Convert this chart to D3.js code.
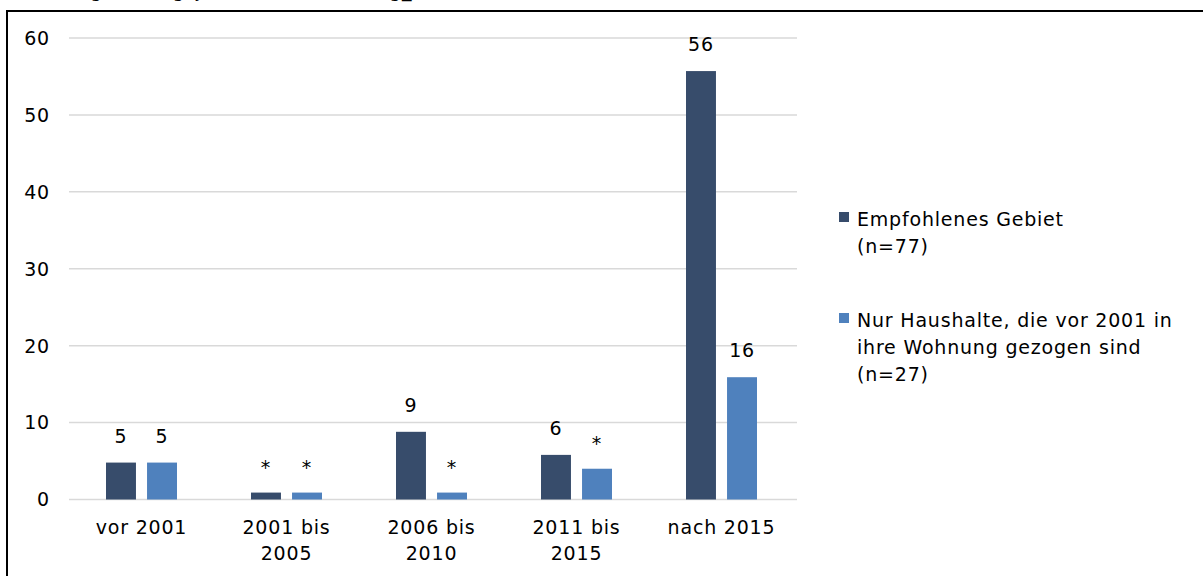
<!DOCTYPE html>
<meta charset="utf-8">
<script src="https://d3js.org/d3.v7.min.js"></script>
<style>
  body { margin: 0; background: #fff; }
  text { font-family: "DejaVu Sans", sans-serif; fill: #000; font-size: 19px; letter-spacing: 0.8px; }
</style>
<div id="my_dataviz"></div>
<script>

// data
var categories = ["vor 2001", "2001 bis|2005", "2006 bis|2010", "2011 bis|2015", "nach 2015"];
var seriesNames = ["Empfohlenes Gebiet|(n=77)", "Nur Haushalte, die vor 2001 in|ihre Wohnung gezogen sind|(n=27)"];
var gebiet = [4.8, 0.9, 8.8, 5.8, 55.7];
var haushalte = [4.8, 0.9, 0.9, 4.0, 15.9];
var gebietLabels = ["5", "*", "9", "6", "56"];
var haushalteLabels = ["5", "*", "*", "*", "16"];
var yTicks = [0, 10, 20, 30, 40, 50, 60];
var colors = ["#374c6b", "#4f81bd"];

var W = 1203, H = 576;
var margin = {top: 38, left: 69};
var width = 794 - margin.left,
    height = 499.5 - margin.top;

var svgRoot = d3.select("#my_dataviz")
  .append("svg")
    .attr("width", W)
    .attr("height", H);

// title, cut off at the top edge like in the original
svgRoot.append("text")
  .attr("x", 0)
  .attr("y", -3)
  .text("Abbildung: Einzugsjahr in die Wohnung_nach Gebiet");

// frame
svgRoot.append("rect")
  .attr("x", 7)
  .attr("y", 11)
  .attr("width", W + 20)
  .attr("height", H + 20)
  .style("fill", "none")
  .style("stroke", "#000")
  .style("stroke-width", 2);

var svg = svgRoot.append("g")
  .attr("transform", "translate(" + margin.left + "," + margin.top + ")");

var x = d3.scaleBand()
  .domain(categories)
  .range([0, width]);

var x1 = d3.scaleBand()
  .domain([0, 1])
  .range([37, x.bandwidth() - 37])
  .paddingInner(0.27);

var y = d3.scaleLinear()
  .domain([0, 60])
  .range([height, 0]);

// gridlines
svg.selectAll(".grid")
  .data(yTicks)
  .enter()
  .append("line")
    .attr("x1", 0)
    .attr("x2", width + 3)
    .attr("y1", function(d) { return y(d); })
    .attr("y2", function(d) { return y(d); })
    .style("stroke", "#d9d9d9")
    .style("stroke-width", 1.5);

// y labels
svg.selectAll(".ylab")
  .data(yTicks)
  .enter()
  .append("text")
    .attr("x", -19)
    .attr("y", function(d) { return y(d); })
    .attr("dy", "0.36em")
    .style("text-anchor", "end")
    .text(function(d) { return d; });

var series = [gebiet, haushalte];
var labels = [gebietLabels, haushalteLabels];

series.forEach(function(vals, s) {
  svg.selectAll(".bar" + s)
    .data(vals)
    .enter()
    .append("rect")
      .attr("x", function(d, i) { return x(categories[i]) + x1(s); })
      .attr("y", function(d) { return y(d); })
      .attr("width", x1.bandwidth())
      .attr("height", function(d) { return y(0) - y(d); })
      .style("fill", colors[s]);

  svg.selectAll(".val" + s)
    .data(vals)
    .enter()
    .append("text")
      .attr("x", function(d, i) { return x(categories[i]) + x1(s) + x1.bandwidth() / 2; })
      .attr("y", function(d, i) { return y(d) - (labels[s][i] == "*" ? 19 : 20); })
      .style("text-anchor", "middle")
      .text(function(d, i) { return labels[s][i]; });
});

// category labels (two lines)
categories.forEach(function(c) {
  var t = svg.append("text")
    .attr("x", x(c) + x.bandwidth() / 2)
    .attr("y", height + 34)
    .style("text-anchor", "middle");
  c.split("|").forEach(function(line, k) {
    t.append("tspan")
      .attr("x", x(c) + x.bandwidth() / 2)
      .attr("dy", k == 0 ? 0 : 26)
      .text(line);
  });
});

// legend
var legendY = [226, 327];
seriesNames.forEach(function(name, s) {
  svgRoot.append("rect")
    .attr("x", 839)
    .attr("y", legendY[s] - 14)
    .attr("width", 10)
    .attr("height", 10)
    .style("fill", colors[s]);
  var t = svgRoot.append("text")
    .attr("x", 857)
    .attr("y", legendY[s]);
  name.split("|").forEach(function(line, k) {
    t.append("tspan")
      .attr("x", 857)
      .attr("dy", k == 0 ? 0 : 27)
      .text(line);
  });
});

</script>
